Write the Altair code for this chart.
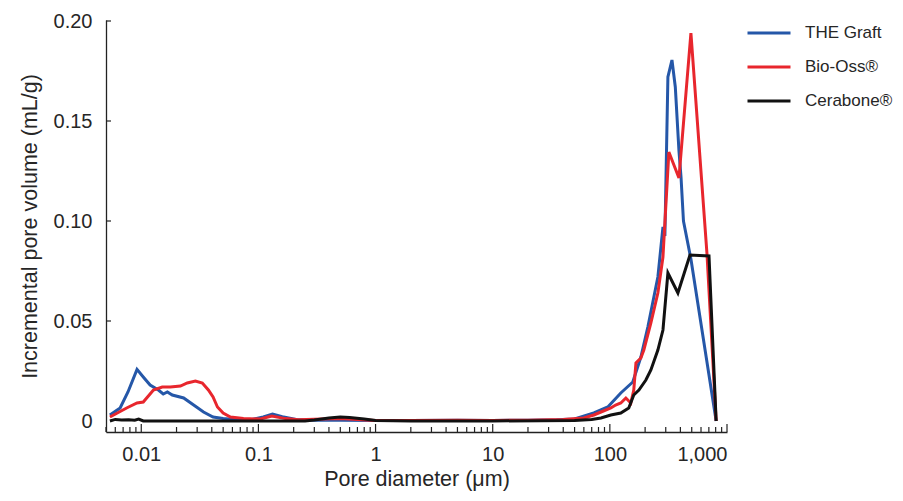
import altair as alt
import pandas as pd

# ---- data ----
series_names = ["THE Graft", "Bio-Oss®", "Cerabone®"]
series_colors = ["#2557a8", "#e8262d", "#111111"]

graft_d = [0.0054, 0.0066, 0.0077, 0.0092, 0.0104, 0.0119, 0.014, 0.0154, 0.0167, 0.0184,
           0.023, 0.028, 0.034, 0.041, 0.05, 0.07, 0.085, 0.11, 0.132, 0.16, 0.21, 0.3,
           0.5, 1, 2, 5, 10, 20, 35, 50, 73, 96, 124, 157, 184, 211, 257, 284, 295, 313,
           339, 362, 389, 405, 425, 492, 808]
graft_v = [0.003, 0.0065, 0.0145, 0.0258, 0.022, 0.018, 0.0155, 0.0135, 0.0145, 0.013,
           0.0115, 0.008, 0.0045, 0.002, 0.0012, 0.0005, 0.0005, 0.002, 0.0035, 0.0022, 0.0008, 0.0004,
           0.0004, 0.0003, 0.0003, 0.0004, 0.0003, 0.0004, 0.0006, 0.001, 0.004, 0.007, 0.014, 0.0195, 0.032, 0.047, 0.072, 0.097, 0.0925, 0.172,
           0.1805, 0.167, 0.135, 0.122, 0.1, 0.081, 0.0]

biooss_d = [0.0054, 0.0075, 0.0092, 0.0104, 0.0127, 0.0151, 0.0177, 0.0216, 0.0247, 0.029,
            0.0332, 0.0374, 0.041, 0.0447, 0.05, 0.0577, 0.0745, 0.104, 0.13, 0.17, 0.22, 0.35,
            0.5, 0.7, 1.0, 2, 5, 10, 20, 40, 60, 73, 84, 102, 112, 124, 137, 151, 160, 167,
            184, 195, 224, 257, 284, 319, 389, 492, 674, 808]
biooss_v = [0.002, 0.0065, 0.009, 0.0095, 0.0155, 0.017, 0.017, 0.0175, 0.019, 0.020,
            0.019, 0.0155, 0.012, 0.007, 0.004, 0.002, 0.0012, 0.001, 0.0025, 0.0012, 0.0006, 0.001,
            0.0012, 0.0008, 0.0003, 0.0003, 0.0004, 0.0003, 0.0004, 0.0008, 0.0015, 0.003, 0.0045, 0.0065, 0.008, 0.009, 0.0115, 0.009, 0.0155, 0.029,
            0.0315, 0.0355, 0.049, 0.064, 0.082, 0.1345, 0.1215, 0.194, 0.084, 0.0]

cerabone_d = [0.0054, 0.006, 0.0068, 0.0078, 0.0088, 0.0095, 0.0104, 0.02, 0.1, 0.25,
              0.3, 0.4, 0.5, 0.6, 0.8, 1.0, 2, 10, 50, 70, 84, 102, 124, 145, 160, 177,
              203, 224, 257, 284, 313, 381, 483, 702, 808]
cerabone_v = [0.0, 0.0008, 0.0005, 0.0006, 0.0004, 0.001, 0.0, 0.0, 0.0, 0.0,
              0.0005, 0.0015, 0.002, 0.0018, 0.001, 0.0002, 0.0, 0.0, 0.0003, 0.0008, 0.0015, 0.003, 0.004, 0.0065, 0.013, 0.0155,
              0.0205, 0.0255, 0.0355, 0.0455, 0.074, 0.064, 0.083, 0.0825, 0.0]

x_major = [0.01, 0.1, 1, 10, 100, 1000]
x_minor = [m * 10 ** e for e in range(-3, 3) for m in range(2, 10) if 0.005 <= m * 10 ** e <= 1000]
y_ticks = [0, 0.05, 0.10, 0.15, 0.20]

rows = []
for name, ds, vs in [(series_names[0], graft_d, graft_v),
                     (series_names[1], biooss_d, biooss_v),
                     (series_names[2], cerabone_d, cerabone_v)]:
    for i, (d, v) in enumerate(zip(ds, vs)):
        rows.append({"series": name, "d": d, "v": v, "i": i})
df = pd.DataFrame(rows)

W, H = 621, 412
FONT = "Liberation Sans"
TXT = "#262626"

xscale = alt.Scale(type="log", domain=[0.005, 1000], nice=False)
yscale = alt.Scale(domain=[-0.0055, 0.2005], nice=False, zero=False)

lines = alt.Chart(df).mark_line(strokeWidth=3, clip=True).encode(
    x=alt.X("d:Q", scale=xscale,
            axis=alt.Axis(values=x_major, format=",~g", ticks=False, tickSize=0,
                          grid=False, labelPadding=12, labelFontSize=20, labelFont=FONT,
                          labelColor=TXT, domainColor="#222222", domainWidth=1.3,
                          title="Pore diameter (μm)", titleFontSize=21.5, titleFont=FONT,
                          titleFontWeight="normal", titleColor=TXT, titlePadding=4)),
    y=alt.Y("v:Q", scale=yscale,
            axis=alt.Axis(values=y_ticks, ticks=False, tickSize=0, grid=False,
                          labelExpr="datum.value == 0 ? '0' : format(datum.value, '.2f')",
                          labelPadding=14, labelFontSize=20, labelFont=FONT,
                          labelColor=TXT, domainColor="#222222", domainWidth=1.3,
                          title="Incremental pore volume (mL/g)", titleFontSize=21.5,
                          titleFont=FONT, titleFontWeight="normal", titleColor=TXT,
                          titlePadding=12)),
    color=alt.Color("series:N",
                    scale=alt.Scale(domain=series_names, range=series_colors),
                    sort=series_names,
                    legend=alt.Legend(title=None, orient="none", legendX=640, legendY=-10,
                                      symbolType="stroke", symbolSize=1849,
                                      symbolStrokeWidth=3, labelFontSize=17,
                                      labelFont=FONT, labelColor=TXT,
                                      labelOffset=13, rowPadding=3)),
    order="i:Q",
    detail="series:N",
)

major_df = pd.DataFrame({"d": x_major})
minor_df = pd.DataFrame({"d": x_minor})
yt_df = pd.DataFrame({"v": y_ticks[1:]})

major_ticks = alt.Chart(major_df).mark_rule(color="#222222", strokeWidth=1.2).encode(
    x=alt.X("d:Q", scale=xscale), y=alt.value(H - 8), y2=alt.value(H))
minor_ticks = alt.Chart(minor_df).mark_rule(color="#222222", strokeWidth=1.2).encode(
    x=alt.X("d:Q", scale=xscale), y=alt.value(H - 5), y2=alt.value(H))
y_tick_marks = alt.Chart(yt_df).mark_rule(color="#222222", strokeWidth=1.2).encode(
    y=alt.Y("v:Q", scale=yscale), x=alt.value(0), x2=alt.value(5))

# draw blue, then red, then black on top
layers = []
for name in series_names:
    layers.append(lines.transform_filter(alt.datum.series == name))

chart = alt.layer(major_ticks, minor_ticks, y_tick_marks, *layers).properties(
    width=W, height=H,
    autosize=alt.AutoSizeParams(type="none"),
    padding={"left": 98, "top": 12, "right": 168, "bottom": 61},
).configure_view(stroke=None).configure_legend(symbolType="stroke")

chart.save("out.html", embed_options={"renderer": "svg", "actions": False})
